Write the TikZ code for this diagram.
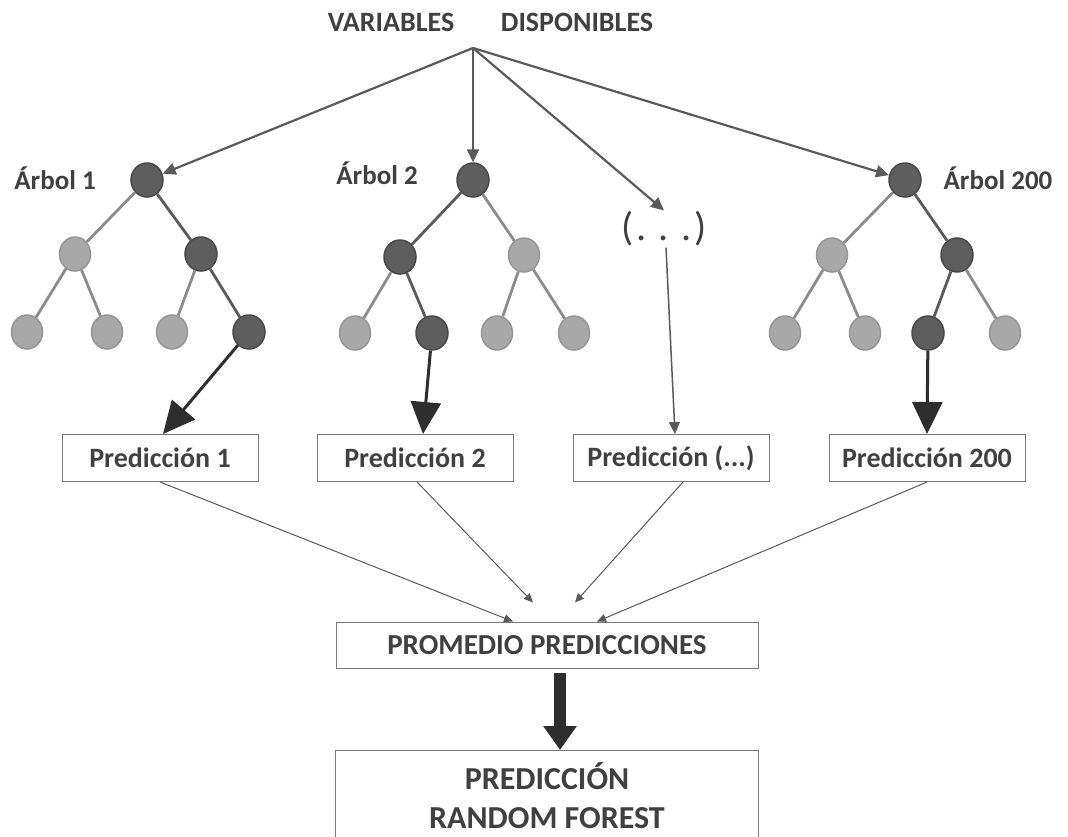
\documentclass[tikz,border=0pt]{standalone}
\usepackage{fontspec}
\setmainfont{Carlito}
\usetikzlibrary{arrows.meta,shapes.geometric}
\definecolor{txt}{HTML}{404040}
\definecolor{darkfill}{HTML}{5E5E5E}
\definecolor{darkedge}{HTML}{484848}
\definecolor{lightfill}{HTML}{A8A8A8}
\definecolor{lightedge}{HTML}{959595}
\definecolor{darkline}{HTML}{5A5A5A}
\definecolor{lightline}{HTML}{8C8C8C}
\definecolor{arrowgray}{HTML}{5A5A5A}
\definecolor{boxline}{HTML}{7A7A7A}
\definecolor{thick}{HTML}{2E2E2E}
\begin{document}
\begin{tikzpicture}[x=1pt,y=-1pt,
  dnode/.style={ellipse,draw=darkedge,fill=darkfill,line width=1.5pt,minimum width=32pt,minimum height=34pt,inner sep=0pt},
  lnode/.style={ellipse,draw=lightedge,fill=lightfill,line width=1.5pt,minimum width=31pt,minimum height=34pt,inner sep=0pt},
  dedge/.style={draw=darkline,line width=2.8pt},
  ledge/.style={draw=lightline,line width=2.8pt},
  topar/.style={draw=arrowgray,line width=2.2pt,-{Triangle[length=13pt,width=12pt]}},
  leafar/.style={draw=thick,line width=3pt,-{Triangle[length=32pt,width=30pt]}},
  thinar/.style={draw=arrowgray,line width=1pt,-{Triangle[length=9pt,width=8pt]}},
  predbox/.style={draw=boxline,line width=1pt,minimum width=196pt,minimum height=47pt,inner sep=0pt,text=txt,font=\fontsize{28}{32}\selectfont\bfseries},
  lbl/.style={text=txt,font=\fontsize{27}{32}\selectfont\bfseries,inner sep=0pt}
]
\useasboundingbox[fill=white] (0,0) rectangle (1068,836);

% top labels
\node[lbl,font=\fontsize{28}{32}\selectfont\bfseries] (var) at (391,22) {VARIABLES};
\node[lbl,font=\fontsize{28}{32}\selectfont\bfseries] (disp) at (577,22) {DISPONIBLES};
\coordinate (src) at (473,48);

% tree 1
\node[dnode] (a0) at (147,180) {};
\node[lnode] (a1) at (75,254) {};
\node[dnode] (a2) at (201,254) {};
\node[lnode] (a3) at (27,332) {};
\node[lnode] (a4) at (107,332) {};
\node[lnode] (a5) at (172,332) {};
\node[dnode] (a6) at (249,332) {};
\draw[ledge] (a0) -- (a1);
\draw[dedge] (a0) -- (a2);
\draw[ledge] (a1) -- (a3);
\draw[ledge] (a1) -- (a4);
\draw[ledge] (a2) -- (a5);
\draw[dedge] (a2) -- (a6);
\node[lbl] (l1) at (55,178) {Árbol 1};

% tree 2
\node[dnode] (b0) at (473,180) {};
\node[dnode] (b1) at (400,257) {};
\node[lnode] (b2) at (524,255) {};
\node[lnode] (b3) at (355,333) {};
\node[dnode] (b4) at (432,333) {};
\node[lnode] (b5) at (497,333) {};
\node[lnode] (b6) at (574,333) {};
\draw[dedge] (b0) -- (b1);
\draw[ledge] (b0) -- (b2);
\draw[ledge] (b1) -- (b3);
\draw[dedge] (b1) -- (b4);
\draw[ledge] (b2) -- (b5);
\draw[ledge] (b2) -- (b6);
\node[lbl] (l2) at (377,173) {Árbol 2};

% dots
\node[text=txt,font=\fontsize{40}{44}\selectfont,inner sep=1pt] (dots) at (664,229) {(\hspace{3pt}.\hspace{12pt}.\hspace{12pt}.\hspace{3pt})};

% tree 200
\node[dnode] (c0) at (905,180) {};
\node[lnode] (c1) at (832,255) {};
\node[dnode] (c2) at (957,255) {};
\node[lnode] (c3) at (785,333) {};
\node[lnode] (c4) at (865,333) {};
\node[dnode] (c5) at (928,333) {};
\node[lnode] (c6) at (1005,333) {};
\draw[ledge] (c0) -- (c1);
\draw[dedge] (c0) -- (c2);
\draw[ledge] (c1) -- (c3);
\draw[ledge] (c1) -- (c4);
\draw[dedge] (c2) -- (c5);
\draw[ledge] (c2) -- (c6);
\node[lbl] (l3) at (998,178) {Árbol 200};

% top arrows
\draw[topar] (src) -- (a0);
\draw[topar] (src) -- (b0);
\draw[topar] (src) -- (dots.north);
\draw[topar] (src) -- (c0);

% prediction boxes
\node[predbox] (p1) at (160,458) {Predicción 1};
\node[predbox] (p2) at (415,458) {Predicción 2};
\node[predbox] (pd) at (671,458) {Predicción (...)};
\node[predbox] (p200) at (927,458) {Predicción 200};

% leaf arrows
\draw[leafar] (a6) -- ([xshift=3pt]p1.north);
\draw[leafar] (b4) -- ([xshift=8pt]p2.north);
\draw[leafar] (c5) -- (p200.north);
\draw[draw=arrowgray,line width=1.5pt,-{Triangle[length=12pt,width=11pt]}] ([xshift=2pt]dots.south) -- ([xshift=4pt]pd.north);

% average box
\node[draw=boxline,line width=1pt,minimum width=422pt,minimum height=46pt,inner sep=0pt,text=txt,font=\fontsize{29}{34}\selectfont\bfseries] (prom) at (547,645) {PROMEDIO PREDICCIONES};

\draw[thinar] (p1.south) -- ([xshift=-34pt]prom.north);
\draw[thinar] ([xshift=2pt]p2.south) -- ([xshift=-14pt,yshift=19pt]prom.north);
\draw[thinar] ([xshift=12pt]pd.south) -- ([xshift=28pt,yshift=19pt]prom.north);
\draw[thinar] (p200.south) -- ([xshift=50pt]prom.north);

% final box
\node[anchor=north,minimum width=422pt,minimum height=110pt,inner sep=0pt] (fin) at (547,750) {};
\draw[draw=boxline,line width=1pt] (fin.south west) -- (fin.north west) -- (fin.north east) -- (fin.south east);
\node[text=txt,font=\fontsize{32}{39}\selectfont\bfseries,align=center,inner sep=0pt,anchor=north] (fint) at (547,762) {PREDICCIÓN\\RANDOM FOREST};

\draw[draw=thick,line width=12pt,-{Triangle[length=24pt,width=32pt]}] ([xshift=13pt,yshift=-4pt]prom.south) -- ([xshift=13pt]fin.north);
\end{tikzpicture}
\end{document}
